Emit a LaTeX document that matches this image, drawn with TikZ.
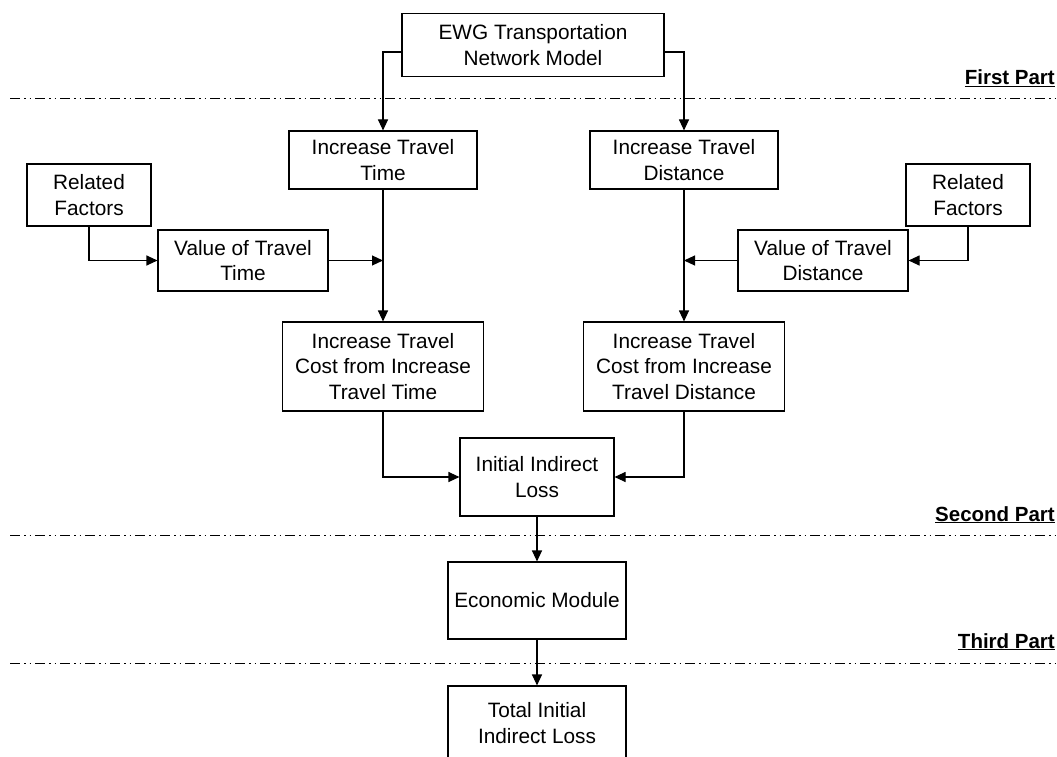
\documentclass[tikz,border=0pt]{standalone}
\usepackage{fontspec}
\setmainfont{Liberation Sans}
\usetikzlibrary{arrows.meta}
\begin{document}
\begin{tikzpicture}[x=1pt,y=-1pt,
  box/.style={draw,line width=1.1pt,align=center,inner sep=0pt,
    font=\fontsize{20.8}{25.5}\selectfont},
  link/.style={line width=1.1pt,-{Triangle[length=11pt,width=10pt]}},
  divider/.style={line width=1pt,
    dash pattern=on 10pt off 4pt on 1.5pt off 4pt on 1.5pt off 4pt},
  partlabel/.style={anchor=base east,inner sep=0pt,
    font=\fontsize{20.5}{22}\selectfont\bfseries}]
\useasboundingbox (0,0) rectangle (1057,757);
\clip (0,0) rectangle (1057,757);

% boxes
\node[box,minimum width=262pt,minimum height=63pt] (ewg) at (533,45) {EWG Transportation\\Network Model};
\node[box,minimum width=188pt,minimum height=58pt] (itt) at (383,160) {Increase Travel\\Time};
\node[box,minimum width=188pt,minimum height=58pt] (itd) at (684,160) {Increase Travel\\Distance};
\node[box,minimum width=124pt,minimum height=62pt] (rfl) at (89,195) {Related\\Factors};
\node[box,minimum width=124pt,minimum height=62pt] (rfr) at (968,195) {Related\\Factors};
\node[box,minimum width=170pt,minimum height=61pt] (vtt) at (243,260.5) {Value of Travel\\Time};
\node[box,minimum width=170pt,minimum height=61pt] (vtd) at (823,260.5) {Value of Travel\\Distance};
\node[box,minimum width=201pt,minimum height=89pt] (ctt) at (383,366.5) {Increase Travel\\Cost from Increase\\Travel Time};
\node[box,minimum width=201pt,minimum height=89pt] (ctd) at (684,366.5) {Increase Travel\\Cost from Increase\\Travel Distance};
\node[box,minimum width=154pt,minimum height=78pt] (iil) at (537,477) {Initial Indirect\\Loss};
\node[box,minimum width=178pt,minimum height=77pt] (eco) at (537,600.5) {Economic Module};
\node[box,minimum width=178pt,minimum height=76pt] (til) at (537,724) {};
\node[align=center,font=\fontsize{20.8}{25.5}\selectfont] (tiltext) at (537,723) {Total Initial\\Indirect Loss};

% section dividers and their labels
\coordinate (d1l) at (10,99);   \coordinate (d1r) at (1055,99);
\coordinate (d2l) at (10,535);  \coordinate (d2r) at (1055,535);
\coordinate (d3l) at (10,663);  \coordinate (d3r) at (1055,663);
\draw[divider] (d1l) -- (d1r);
\draw[divider] (d2l) -- (d2r);
\draw[divider] (d3l) -- (d3r);
\node[partlabel] (p1) at (1055,85) {\underline{First Part}};
\node[partlabel] (p2) at (1055,521) {\underline{Second Part}};
\node[partlabel] (p3) at (1055,648) {\underline{Third Part}};

% connectors
\draw[link] (ewg.west |- 0,52) -| (itt.north);
\draw[link] (ewg.east |- 0,52) -| (itd.north);
\draw[link] (itt.south) -- (ctt.north);
\draw[link] (itd.south) -- (ctd.north);
\draw[link] (rfl.south) |- (vtt.west);
\draw[link] (rfr.south) |- (vtd.east);
\draw[link] (vtt.east) -- (vtt.east -| itt.south);
\draw[link] (vtd.west) -- (vtd.west -| itd.south);
\draw[link] (ctt.south) |- (iil.west);
\draw[link] (ctd.south) |- (iil.east);
\draw[link] (iil.south) -- (eco.north);
\draw[link] (eco.south) -- (til.north);
\end{tikzpicture}
\end{document}
